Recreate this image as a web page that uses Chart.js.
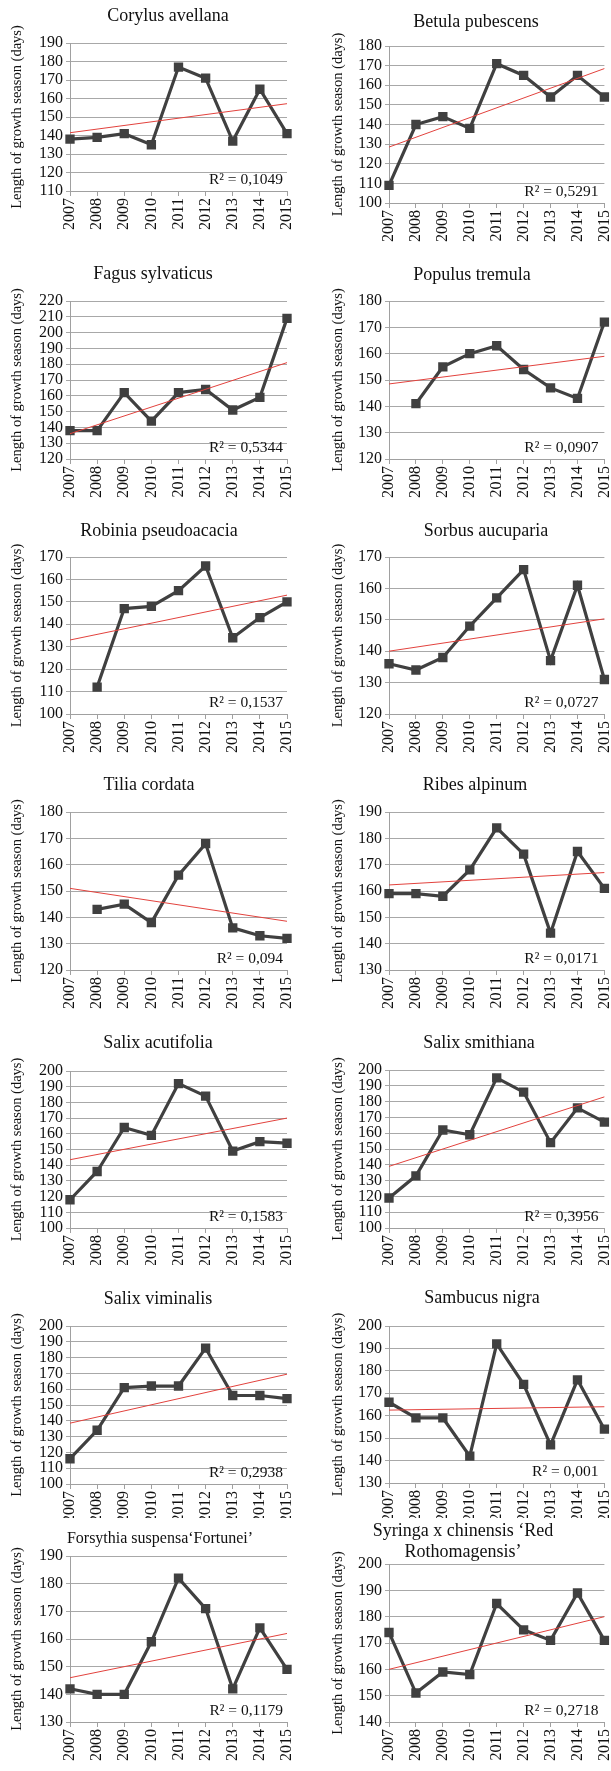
<!DOCTYPE html>
<html>
<head>
<meta charset="utf-8">
<script src="https://cdn.jsdelivr.net/npm/chart.js@4.4.1/dist/chart.umd.min.js"></script>
<style>
html,body{margin:0;padding:0;background:#fff;}
body{width:611px;height:1771px;position:relative;overflow:hidden;font-family:"Liberation Serif","Times New Roman",Tinos,"DejaVu Serif",serif;}
.wrap{position:absolute;}
.ttl{position:absolute;font-size:18px;color:#111;white-space:nowrap;transform:translate(-50%,-50%);line-height:21px;text-align:center;font-family:"Liberation Serif","Times New Roman",Tinos,"DejaVu Serif",serif;}
</style>
</head>
<body>
<script>
// ---------- data ----------
const years = ['2007','2008','2009','2010','2011','2012','2013','2014','2015'];

const speciesNames = [
  ['Corylus avellana'], ['Betula pubescens'],
  ['Fagus sylvaticus'], ['Populus tremula'],
  ['Robinia pseudoacacia'], ['Sorbus aucuparia'],
  ['Tilia cordata'], ['Ribes alpinum'],
  ['Salix acutifolia'], ['Salix smithiana'],
  ['Salix viminalis'], ['Sambucus nigra'],
  ['Forsythia suspensa\u2018Fortunei\u2019'], ['Syringa x chinensis \u2018Red', 'Rothomagensis\u2019']
];

const corylusAvellana     = [138, 139, 141, 135, 177, 171, 137, 165, 141];
const betulaPubescens     = [109, 140, 144, 138, 171, 165, 154, 165, 154];
const fagusSylvaticus     = [138, 138, 162, 144, 162, 164, 151, 159, 209];
const populusTremula      = [null, 141, 155, 160, 163, 154, 147, 143, 172];
const robiniaPseudoacacia = [null, 112, 147, 148, 155, 166, 134, 143, 150];
const sorbusAucuparia     = [136, 134, 138, 148, 157, 166, 137, 161, 131];
const tiliaCordata        = [null, 143, 145, 138, 156, 168, 136, 133, 132];
const ribesAlpinum        = [159, 159, 158, 168, 184, 174, 144, 175, 161];
const salixAcutifolia     = [118, 136, 164, 159, 192, 184, 149, 155, 154];
const salixSmithiana      = [119, 133, 162, 159, 195, 186, 154, 176, 167];
const salixViminalis      = [116, 134, 161, 162, 162, 186, 156, 156, 154];
const sambucusNigra       = [166, 159, 159, 142, 192, 174, 147, 176, 154];
const forsythiaSuspensa   = [142, 140, 140, 159, 182, 171, 142, 164, 149];
const syringaChinensis    = [174, 151, 159, 158, 185, 175, 171, 189, 171];

const seriesValues = [corylusAvellana, betulaPubescens, fagusSylvaticus, populusTremula,
  robiniaPseudoacacia, sorbusAucuparia, tiliaCordata, ribesAlpinum, salixAcutifolia,
  salixSmithiana, salixViminalis, sambucusNigra, forsythiaSuspensa, syringaChinensis];

// linear trend line end values (2007 and 2015)
const trendStart = [141.5, 128.5, 136, 148.5, 133, 140, 151, 162.3, 143.5, 139, 138.5, 162.5, 146, 160];
const trendEnd   = [157.2, 168.5, 181, 159, 153, 150.3, 138.5, 167, 170, 183, 169.5, 164, 162, 180];
const r2Labels   = ['R\u00B2 = 0,1049','R\u00B2 = 0,5291','R\u00B2 = 0,5344','R\u00B2 = 0,0907',
  'R\u00B2 = 0,1537','R\u00B2 = 0,0727','R\u00B2 = 0,094','R\u00B2 = 0,0171',
  'R\u00B2 = 0,1583','R\u00B2 = 0,3956','R\u00B2 = 0,2938','R\u00B2 = 0,001',
  'R\u00B2 = 0,1179','R\u00B2 = 0,2718'];

// y tick ranges
const yMin = [110, 100, 120, 120, 100, 120, 120, 130, 100, 100, 100, 130, 130, 140];
const yMax = [190, 180, 220, 180, 170, 170, 180, 190, 200, 200, 200, 200, 190, 200];
const yStep = 10;
const yAxisTitle = 'Length of growth season (days)';

// ---------- layout (pixels) ----------
const plotTop    = [43, 46, 301, 301, 557, 557, 812, 812, 1071, 1070, 1326, 1326, 1556, 1564];
const plotBottom = [191, 203, 459, 459, 714, 714, 970, 970, 1228, 1228, 1484, 1483, 1722, 1722];
const titleX = [168, 476, 153, 472, 159, 486, 149, 475, 158, 479, 158, 482, 160, 463];
const titleY = [15, 21, 273, 274, 530, 530, 784, 784, 1042, 1042, 1298, 1297, 1537, 1541];
const titleSize = [18, 18, 18, 18, 18, 18, 18, 18, 18, 18, 18, 18, 16, 18];

const FONT = '"Liberation Serif", "Times New Roman", Tinos, "DejaVu Serif", serif';
const ROW_H = 253;

const r2Plugin = {
  id: 'r2label',
  afterDatasetsDraw(chart, args, opts) {
    const {ctx, chartArea} = chart;
    ctx.save();
    ctx.font = '15.5px ' + FONT;
    ctx.fillStyle = '#111';
    ctx.textAlign = 'right';
    ctx.textBaseline = 'middle';
    ctx.fillText(opts.text, chartArea.right - opts.dx, chartArea.bottom - 11);
    ctx.restore();
  }
};

function build() {
seriesValues.forEach((vals, i) => {
  const col = i % 2, row = Math.floor(i / 2);
  const left = col ? 305 : 0;
  const width = col ? 306 : 305;
  const top = row * ROW_H;
  const height = Math.min(ROW_H, 1771 - top);

  const t = document.createElement('div');
  t.className = 'ttl';
  t.style.left = titleX[i] + 'px';
  t.style.top = titleY[i] + 'px';
  t.style.fontSize = titleSize[i] + 'px';
  t.innerHTML = speciesNames[i].join('<br>');

  const wrap = document.createElement('div');
  wrap.className = 'wrap';
  wrap.style.left = left + 'px';
  wrap.style.top = top + 'px';
  wrap.style.width = width + 'px';
  wrap.style.height = height + 'px';
  const cv = document.createElement('canvas');
  cv.width = width; cv.height = height;
  cv.style.width = width + 'px'; cv.style.height = height + 'px';
  wrap.appendChild(cv);
  document.body.appendChild(wrap);
  document.body.appendChild(t);

  const yW = col ? 84 : 70;
  const padR = col ? 4 : 18;
  const xH = height - (plotBottom[i] - top);
  const trend = years.map((_, k) => k === 0 ? trendStart[i] : (k === years.length - 1 ? trendEnd[i] : null));

  new Chart(cv, {
    type: 'line',
    data: {
      labels: years,
      datasets: [
        {
          data: trend, order: 0, borderColor: '#e2423d', borderWidth: 1,
          pointRadius: 0, spanGaps: true, tension: 0, fill: false
        },
        {
          data: vals, order: 1, borderColor: '#404040', borderWidth: 3.2,
          pointStyle: 'rect', pointRadius: 6.6, pointBorderWidth: 0,
          pointBackgroundColor: '#404040', spanGaps: false, tension: 0, fill: false
        }
      ]
    },
    options: {
      responsive: false,
      animation: false,
      devicePixelRatio: 1,
      layout: { padding: { top: plotTop[i] - top, right: padR, left: 0, bottom: 0 } },
      plugins: {
        legend: { display: false },
        tooltip: { enabled: false },
        title: { display: false },
        r2label: { text: r2Labels[i], dx: col ? 6 : 4 }
      },
      scales: {
        x: {
          type: 'category',
          offset: false,
          ticks: { autoSkip: false, maxRotation: 90, minRotation: 90, color: '#111',
                   font: { family: FONT, size: 16 }, padding: 2 },
          grid: { drawOnChartArea: false, drawTicks: true, tickLength: 5, color: '#a0a0a0' },
          border: { display: true, color: '#a0a0a0' },
          afterFit(s) { s.height = xH; s.paddingLeft = 0; s.paddingRight = 0; }
        },
        y: {
          min: yMin[i], max: yMax[i],
          ticks: { stepSize: yStep, autoSkip: false, color: '#111', font: { family: FONT, size: 16 }, padding: 3 },
          grid: { color: '#a8a8a8', lineWidth: 1, tickLength: 4, drawTicks: true },
          border: { display: true, color: '#a0a0a0' },
          title: { display: true, text: yAxisTitle, color: '#111',
                   font: { family: FONT, size: 14.5 }, padding: { top: col ? 24.3 : 8.3, bottom: 0 } },
          afterFit(s) { s.width = yW; s.paddingTop = 0; s.paddingBottom = 0; }
        }
      }
    },
    plugins: [r2Plugin]
  });
});
}
if (document.fonts && document.fonts.load) {
  Promise.all([
    document.fonts.load('15px "Liberation Serif"'),
    document.fonts.load('15px "DejaVu Serif"')
  ]).then(build, build);
} else { build(); }
</script>
</body>
</html>
